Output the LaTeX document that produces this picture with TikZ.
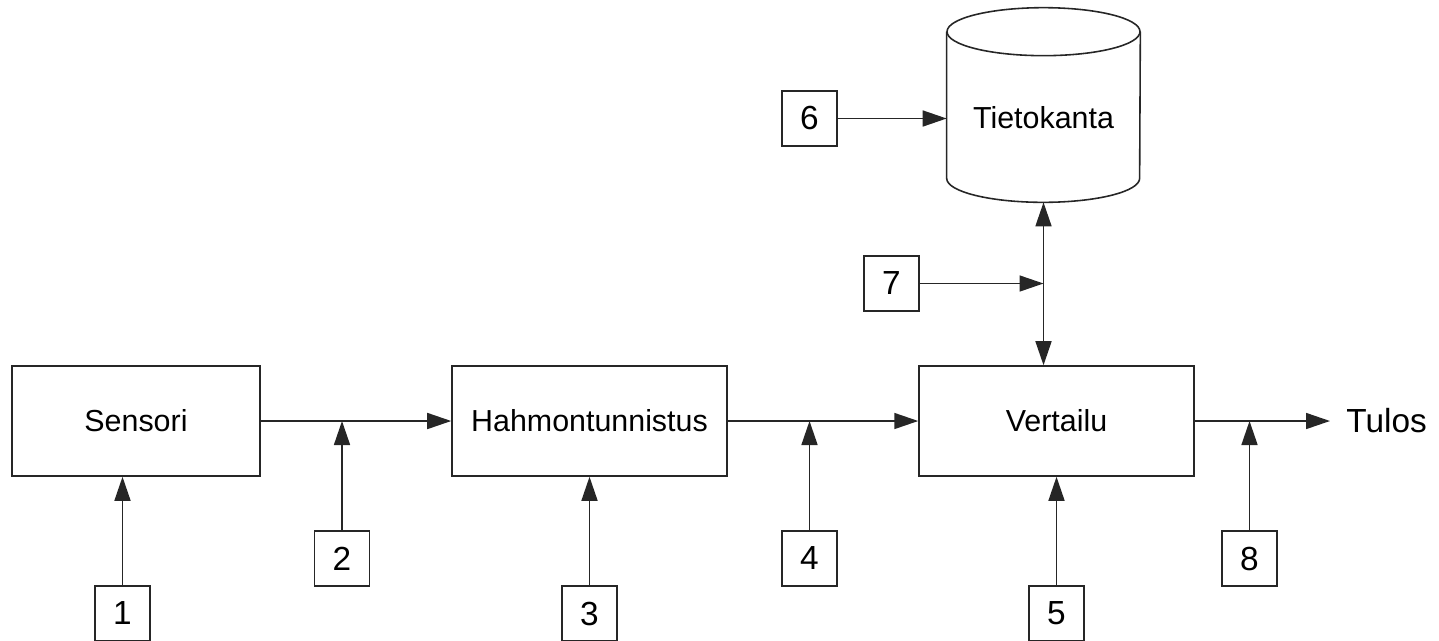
\documentclass[tikz,border=0pt]{standalone}
\usepackage{fontspec}
\setmainfont{Liberation Sans}
\usetikzlibrary{arrows.meta}
\usetikzlibrary{calc}
\colorlet{wire}{black!85}
\tikzset{blk/.style={
  draw=wire, line width=0.9pt,
  minimum width=5.5cm, minimum height=2.2cm,
  font=\fontsize{17.3}{20}\selectfont
}}
\tikzset{num/.style={
  draw=wire, line width=0.9pt,
  minimum size=1.1cm, inner sep=0pt,
  font=\fontsize{19}{22}\selectfont
}}
\tikzset{arr/.style={
  ->, draw=wire, line width=0.9pt
}}

\begin{document}
\begin{tikzpicture}[x=0.02cm,y=-0.02cm,
    >={Triangle[length=0.48cm,width=0.32cm]}]
    \useasboundingbox (0,0) rectangle (1439,640);
    % Blocks
    \node[blk,minimum width=4.96cm] (sens) at (136,421) {Sensori};
    \node[blk] (hahm) at (589.5,421) {Hahmontunnistus};
    \node[blk] (vert) at (1056.5,421) {Vertailu};
    \node[anchor=west,inner xsep=0.32cm,font=\fontsize{19}{22}\selectfont]
      (tulos) at (1330,421) {Tulos};
    % Database
    \node[minimum width=3.86cm,minimum height=3.88cm,inner sep=0pt]
      (db) at (1043.5,105) {};
    \draw[wire,line width=0.9pt]
      ($(db.north west)+(0,24)$) -- ($(db.south west)+(0,-24)$)
      arc[start angle=180,end angle=360,x radius=1.93cm,y radius=0.48cm]
      -- ($(db.north east)+(0,24)$);
    \draw[wire,line width=0.9pt]
      ($(db.north)+(0,24)$) ellipse[x radius=1.93cm,y radius=0.48cm];
    \node[font=\fontsize{17.3}{20}\selectfont] (dbname) at (1043.5,118) {Tietokanta};
    % Numbers (the bottom row runs off the page)
    \node[num] (n1) at (122.5,613.5) {1};
    \node[num] (n2) at (342,558.5) {2};
    \node[num] (n3) at (589.5,613.5) {3};
    \node[num] (n4) at (809.5,558.5) {4};
    \node[num] (n5) at (1056.5,613.5) {5};
    \node[num] (n6) at (809.5,118.5) {6};
    \node[num] (n7) at (891.5,283.5) {7};
    \node[num] (n8) at (1249.5,558.5) {8};
    % Wires
    \draw[arr] (sens) -- (hahm);
    \draw[arr] (hahm) -- (vert);
    \draw[arr] (vert) -- (tulos);
    \draw[arr] (n1) -- (n1 |- sens.south);
    \draw[arr] (n2) -- (n2 |- sens.east);
    \draw[arr] (n3) -- (hahm);
    \draw[arr] (n4) -- (n4 |- hahm.east);
    \draw[arr] (n5) -- (vert);
    \draw[arr] (n8) -- (n8 |- vert.east);
    \draw[arr] (n6) -- (n6 -| db.west);
    \draw[arr] (n7) -- (n7 -| db.south);
    \draw[arr,<->] (db.south) -- (db.south |- vert.north);
\end{tikzpicture}
\end{document}
